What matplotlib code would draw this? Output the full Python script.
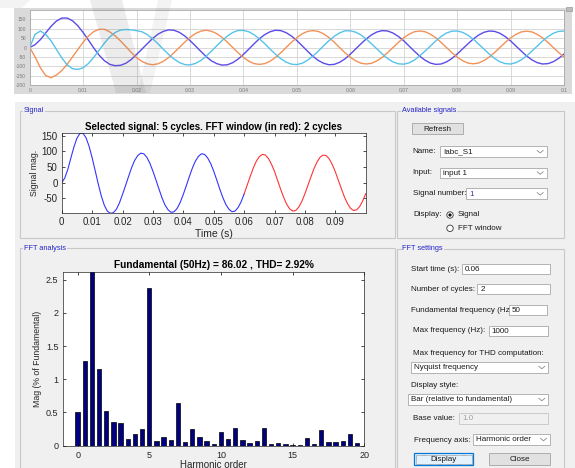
import matplotlib
matplotlib.use("Agg")
import matplotlib.pyplot as plt
import numpy as np
from matplotlib.patches import Rectangle, Polygon, Circle

plt.rcParams['font.family'] = ['Liberation Sans', 'DejaVu Sans']
plt.rcParams['axes.unicode_minus'] = False

W, H = 575, 468

# three phase currents, one value per ms (0 .. 100 ms)
t_ms = np.arange(0, 101)
ia = [0, 15, 42, 78, 113, 141, 157, 157, 143, 116, 80, 39, -3, -41, -71, -90, -97, -95, -84, -64,
      -37, -9, 20, 48, 71, 86, 94, 92, 81, 62, 37, 9, -20, -48, -71, -86, -94, -92, -81, -62,
      -37, -9, 20, 47, 69, 84, 92, 90, 79, 61, 37, 9, -20, -47, -69, -84, -92, -90, -79, -61,
      -36, -8, 20, 46, 68, 83, 90, 88, 77, 59, 36, 8, -20, -46, -68, -83, -90, -88, -77, -59,
      -35, -8, 19, 45, 66, 81, 88, 86, 76, 58, 35, 8, -19, -45, -66, -81, -88, -86, -76, -58, -35]
ib = [0, -50, -108, -150, -161, -147, -123, -90, -51, -11, 28, 61, 85, 97, 97, 83, 62, 35, 5, -26,
      -54, -74, -87, -92, -87, -74, -54, -28, 0, 28, 54, 74, 87, 92, 87, 74, 54, 28, 0, -28,
      -53, -73, -86, -90, -86, -73, -53, -28, 0, 28, 53, 73, 86, 90, 86, 73, 53, 28, 0, -28,
      -52, -71, -84, -88, -84, -71, -52, -27, 0, 27, 52, 71, 84, 88, 84, 71, 52, 27, 0, -27,
      -51, -70, -83, -87, -83, -70, -51, -27, 0, 27, 51, 70, 83, 87, 83, 70, 51, 27, 0, -27, -51]
ic = [0, 70, 88, 70, 35, -10, -55, -92, -113, -117, -108, -85, -52, -14, 24, 57, 80, 93, 96, 94,
      90, 84, 69, 47, 20, -9, -37, -61, -80, -91, -93, -85, -70, -47, -20, 9, 37, 61, 80, 91,
      91, 84, 68, 46, 20, -9, -36, -60, -78, -89, -91, -84, -68, -46, -20, 9, 36, 60, 78, 89,
      89, 82, 67, 45, 19, -8, -35, -59, -77, -87, -89, -82, -67, -45, -19, 8, 35, 59, 77, 87,
      88, 81, 66, 45, 19, -8, -35, -58, -76, -86, -88, -81, -66, -45, -19, 8, 35, 58, 76, 86, 88]

# FFT window starts at 0.06 s (index 60)
win_start = 60

# harmonic spectrum, % of fundamental (fundamental bar = 100, clipped)
orders = np.arange(0, 20, 0.5)
mags = [0.50, 1.27, 100, 1.16, 0.52, 0.36, 0.34, 0.105, 0.17, 0.245,
        2.38, 0.07, 0.13, 0.085, 0.635, 0.06, 0.245, 0.13, 0.075, 0.025,
        0.20, 0.095, 0.26, 0.085, 0.045, 0.065, 0.26, 0.02, 0.04, 0.025,
        0.005, 0.005, 0.11, 0.03, 0.235, 0.055, 0.055, 0.07, 0.175, 0.04]

sig_title = 'Selected signal: 5 cycles. FFT window (in red): 2 cycles'
fft_title = 'Fundamental (50Hz) = 86.02 , THD= 2.92%'


def fig_box(x0, y0, x1, y1):
    return [x0 / W, 1 - y1 / H, (x1 - x0) / W, (y1 - y0) / H]


fig = plt.figure(figsize=(W / 100, H / 100), dpi=100)
fig.patch.set_facecolor('white')

# ---- GUI background drawn in pixel coords ----
bg = fig.add_axes([0, 0, 1, 1], zorder=0)
bg.set_xlim(0, W)
bg.set_ylim(H, 0)
bg.axis('off')

gui_gray = '#f0f0f0'
bg.add_patch(Rectangle((14, 8), 558, 85.5, fc='#dadada', ec='none'))
bg.add_patch(Rectangle((565.5, 7), 6, 3.5, fc='#bdbdbd', ec='#8a8a8a', lw=0.4))
bg.add_patch(Rectangle((15, 101.5), 560, 370, fc=gui_gray, ec='none'))

frame_col = '#c8c8c8'
panels = [((20, 110.7), 375, 127.6, 'Signal', 24, 110.7),
          ((19.5, 248), 375.5, 240, 'FFT analysis', 24, 248),
          ((397.3, 110.7), 166.7, 127.6, 'Available signals', 401.5, 110.7),
          ((397.3, 249), 166.7, 240, 'FFT settings', 402.5, 249)]
for xy, w, h, name, tx, ty in panels:
    bg.add_patch(Rectangle(xy, w, h, fill=False, ec=frame_col, lw=0.8))
    bg.text(tx, ty, name, color='#2424c8', fontsize=5.3, ha='left', va='center',
            bbox=dict(fc=gui_gray, ec='none', pad=0.6))

lab_fs = 5.8
txt_col = '#1a1a1a'


def label(x, y, s, col=txt_col):
    bg.text(x, y, s, fontsize=lab_fs, color=col, ha='left', va='center')


def edit(x0, y0, x1, y1, s, popup=False, disabled=False, col=txt_col):
    fc = '#f0f0f0' if disabled else 'white'
    ec = '#c4c4c4' if disabled else '#a8a8a8'
    bg.add_patch(Rectangle((x0, y0), x1 - x0, y1 - y0, fc=fc, ec=ec, lw=0.6))
    yc = (y0 + y1) / 2
    bg.text(x0 + 3, yc + 0.3, s, fontsize=lab_fs, color='#a0a0a0' if disabled else col,
            ha='left', va='center')
    if popup:
        bg.plot([x1 - 9.5, x1 - 6.5, x1 - 3.5], [yc - 1.2, yc + 1.3, yc - 1.2],
                color='#8a8a8a', lw=0.6)


def button(x0, y0, x1, y1, s, focus=False):
    if focus:
        bg.add_patch(Rectangle((x0, y0), x1 - x0, y1 - y0, fc='#e5f1fb', ec='#0078d7', lw=0.9))
        bg.add_patch(Rectangle((x0 + 1.5, y0 + 1.5), x1 - x0 - 3, y1 - y0 - 3, fill=False,
                               ec='#333333', lw=0.4, ls=(0, (1, 1))))
    else:
        bg.add_patch(Rectangle((x0, y0), x1 - x0, y1 - y0, fc='#e1e1e1', ec='#adadad', lw=0.7))
    bg.text((x0 + x1) / 2, (y0 + y1) / 2 + 0.3, s, fontsize=lab_fs, color=txt_col,
            ha='center', va='center')


# Available signals
button(411.7, 123.3, 463.3, 134.3, 'Refresh')
label(412.7, 151.7, 'Name:')
edit(440, 146, 546.7, 157.3, 'Iabc_S1', popup=True)
label(412.7, 172.7, 'Input:')
edit(440, 167.7, 546.7, 178.3, 'input 1', popup=True)
label(412.7, 193.3, 'Signal number:')
edit(466, 188.3, 546.7, 199.3, '1', popup=True, col='#4a2a9a')
label(413.3, 215, 'Display:')
bg.add_patch(Circle((450, 215), 3.2, fc='white', ec='#333333', lw=0.6))
bg.add_patch(Circle((450, 215), 1.6, fc='#111111', ec='none'))
label(457.5, 215, 'Signal')
bg.add_patch(Circle((450, 228.3), 3.2, fc='white', ec='#333333', lw=0.6))
label(457.5, 228.3, 'FFT window')

# FFT settings
label(411, 269.3, 'Start time (s):')
edit(461.7, 264, 550, 274.3, '0.06')
label(411, 289.3, 'Number of cycles:')
edit(477.3, 284, 550, 294.3, '2')
label(411, 310, 'Fundamental frequency (Hz')
edit(509, 305, 546.7, 315.3, '50')
label(412.7, 330.7, 'Max frequency (Hz):')
edit(488.7, 325.7, 548.3, 336, '1000')
label(412.7, 353.3, 'Max frequency for THD computation:')
edit(411, 361.7, 548.3, 373.3, 'Nyquist frequency', popup=True)
label(411, 385.7, 'Display style:')
edit(408.3, 394, 548.3, 405, 'Bar (relative to fundamental)', popup=True)
label(412.7, 418.3, 'Base value:')
edit(459.3, 412.7, 548.3, 424, '1.0', disabled=True)
label(414, 440, 'Frequency axis:')
edit(473.3, 434, 550, 445, 'Harmonic order', popup=True)
button(414, 453.3, 473.3, 465, 'Display', focus=True)
button(489.3, 453.3, 550, 465, 'Close')

# ---- scope (top) ----
t_s = t_ms / 1000
ax_sc = fig.add_axes(fig_box(29.7, 10, 564, 85), zorder=2)
ax_sc.set_facecolor('white')
ax_sc.plot(t_s, ia, color='#5a4ce8', lw=1.0)
ax_sc.plot(t_s, ib, color='#f29258', lw=1.0)
ax_sc.plot(t_s, ic, color='#56c3ea', lw=1.0)
ax_sc.set_xlim(0, 0.1)
ax_sc.set_ylim(-200, 200)
ax_sc.set_xticks(np.arange(0, 0.1001, 0.01))
ax_sc.set_xticklabels(['0'] + ['%.2f' % v for v in np.arange(0.01, 0.095, 0.01)] + ['0.1'])
ax_sc.set_yticks(np.arange(-200, 151, 50))
ax_sc.tick_params(labelsize=3.6, labelcolor='#7a7a7a', length=0, pad=2.5)
ax_sc.grid(True, color='#d2d2d2', lw=0.6)
ax_sc.set_axisbelow(True)
for sp in ax_sc.spines.values():
    sp.set_color('#a8a8a8')
    sp.set_linewidth(0.6)

# ---- selected signal ----
ax_sig = fig.add_axes(fig_box(61.7, 133.3, 365.7, 213.3), zorder=2)
ax_sig.plot(t_s[:win_start + 1], ia[:win_start + 1], color='#3434ff', lw=0.8)
ax_sig.plot(t_s[win_start:], ia[win_start:], color='#ff3434', lw=0.8)
ax_sig.set_xlim(0, 0.1)
ax_sig.set_ylim(min(ia), max(ia))
ax_sig.set_xticks(np.arange(0, 0.095, 0.01))
ax_sig.set_xticklabels(['0'] + ['%.2f' % v for v in np.arange(0.01, 0.095, 0.01)])
ax_sig.set_yticks([-50, 0, 50, 100, 150])
ax_sig.tick_params(direction='in', top=True, right=True, length=2.5, width=0.5,
                   labelsize=7, labelcolor='#262626', pad=3)
ax_sig.set_title(sig_title, fontsize=7, fontweight='bold', pad=2.5)
ax_sig.set_xlabel('Time (s)', fontsize=7.5, labelpad=1, color='#262626')
ax_sig.set_ylabel('Signal mag.', fontsize=6.3, labelpad=2, color='#262626')
for sp in ax_sig.spines.values():
    sp.set_linewidth(0.5)
    sp.set_color('#262626')

# ---- FFT bars ----
ax_fft = fig.add_axes(fig_box(63.3, 271.7, 364.3, 445.7), zorder=2)
ax_fft.bar(orders, mags, width=0.3, color='#000080', edgecolor='black', lw=0.5)
ax_fft.set_xlim(-1, 20)
harm = [m for o, m in zip(orders, mags) if o != 1]
ax_fft.set_ylim(0, 1.1 * max(harm))
ax_fft.set_xticks([0, 5, 10, 15, 20])
ax_fft.set_yticks([0, 0.5, 1, 1.5, 2, 2.5])
ax_fft.set_yticklabels(['0', '0.5', '1', '1.5', '2', '2.5'])
ax_fft.tick_params(direction='in', top=True, right=True, length=2.5, width=0.5,
                   labelsize=6.5, labelcolor='#262626', pad=3.5)
ax_fft.set_title(fft_title, fontsize=7.3, fontweight='bold', pad=2.5)
ax_fft.set_xlabel('Harmonic order', fontsize=7, labelpad=0, color='#262626')
ax_fft.set_ylabel('Mag (% of Fundamental)', fontsize=6.3, labelpad=3, color='#262626')
for sp in ax_fft.spines.values():
    sp.set_linewidth(0.5)
    sp.set_color('#262626')

# ---- faint watermark over the scope ----
wm = fig.add_axes([0, 0, 1, 1], zorder=10)
wm.set_xlim(0, W)
wm.set_ylim(H, 0)
wm.axis('off')
wm.patch.set_alpha(0)
wm.add_patch(Polygon([(90, 0), (122, 0), (146, 93), (116, 93)], closed=True,
                     fc='#707070', ec='none', alpha=0.13))
wm.add_patch(Polygon([(158, 0), (172, 0), (150, 93), (138, 93)], closed=True,
                     fc='#707070', ec='none', alpha=0.08))
wm.add_patch(Polygon([(0, 0), (30, 0), (22, 8), (0, 8)], closed=True,
                     fc='#707070', ec='none', alpha=0.08))

fig.savefig('out.png', dpi=100)
